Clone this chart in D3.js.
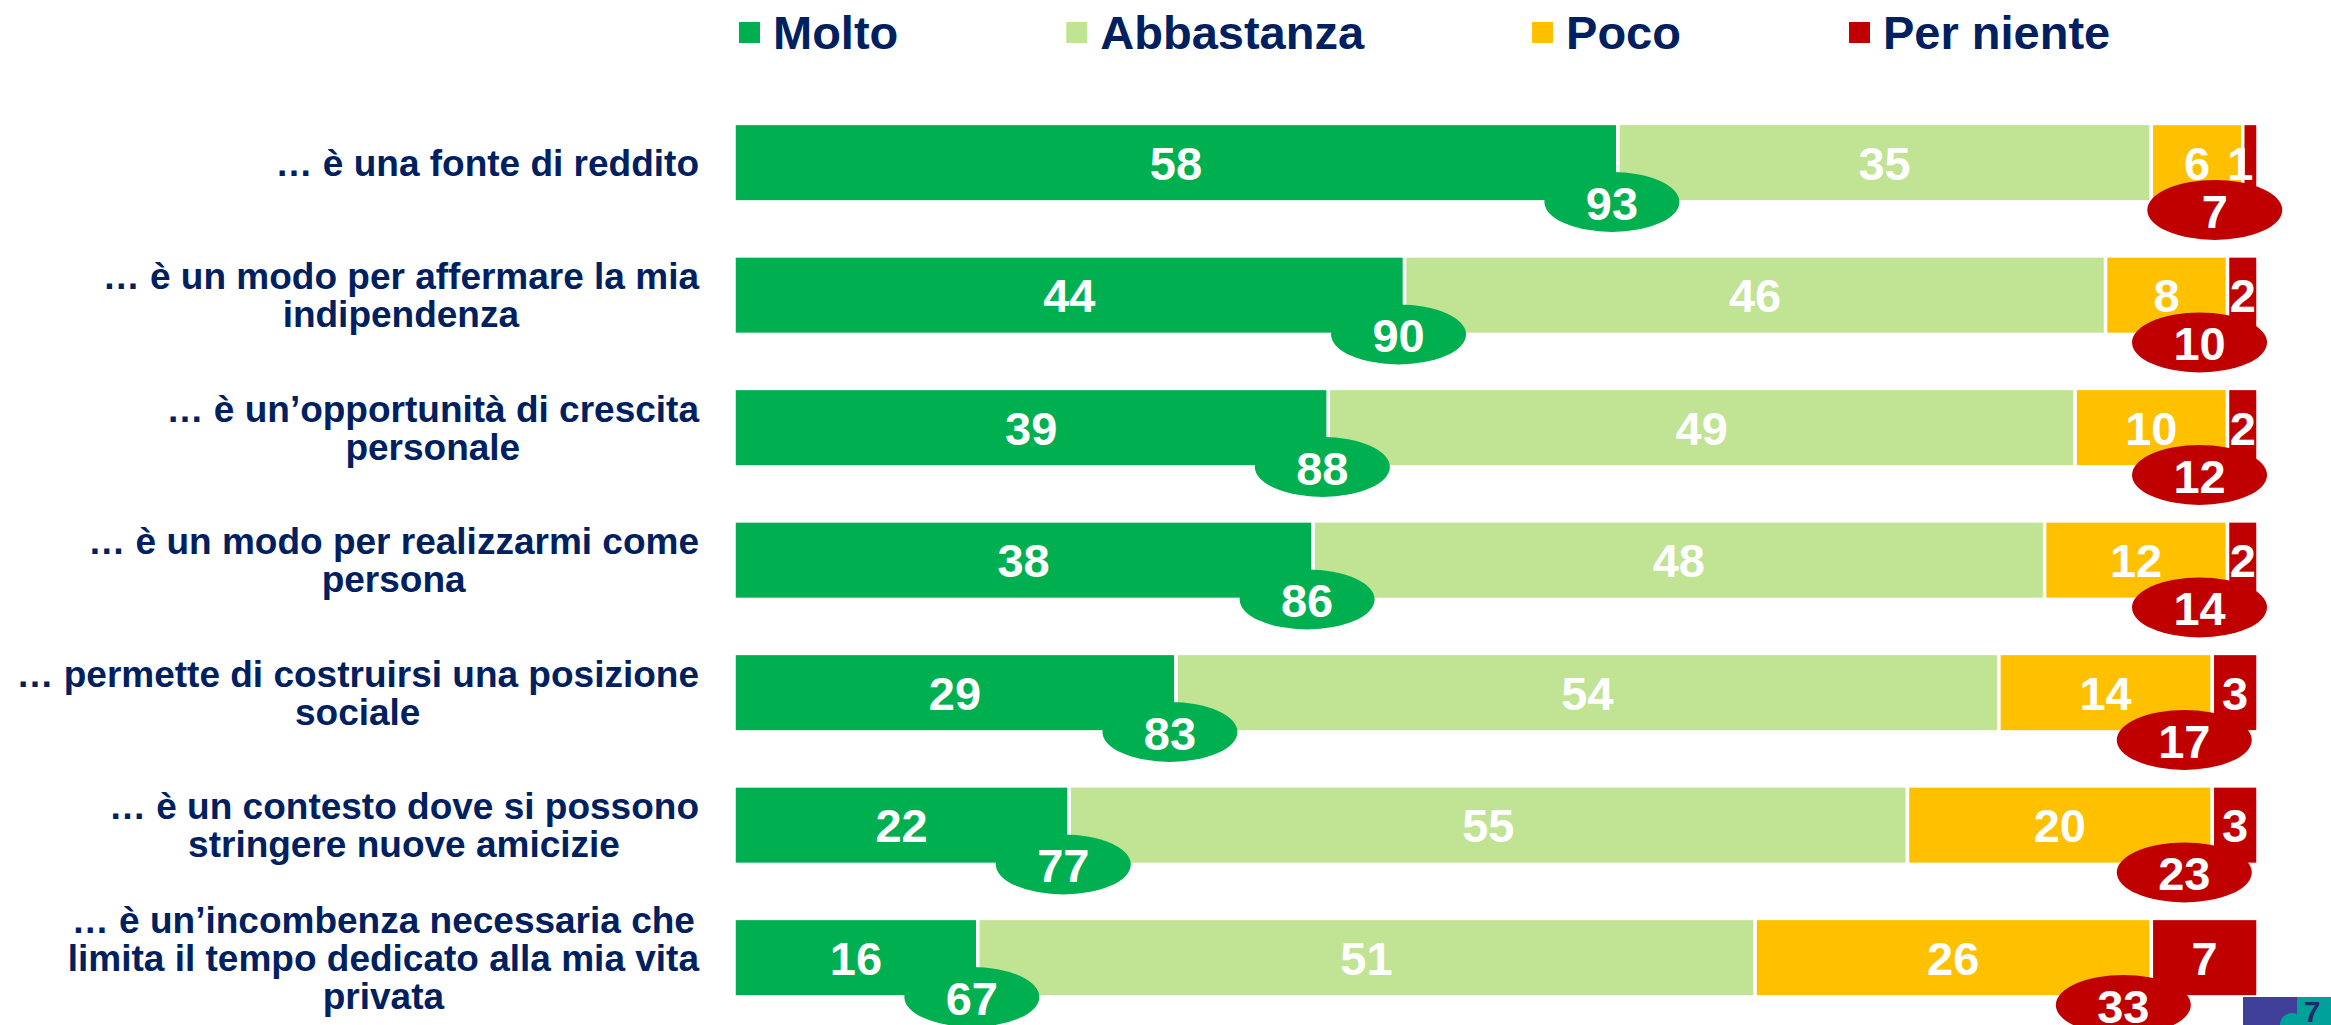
<!DOCTYPE html>
<html>
<head>
<meta charset="utf-8">
<script src="https://cdn.jsdelivr.net/npm/d3@7"></script>
<style>
  html, body { margin: 0; padding: 0; background: #ffffff; }
  svg { display: block; }
  text { font-family: "Liberation Sans", Arial, sans-serif; font-weight: bold; }
</style>
</head>
<body>
<svg id="chart" width="2331" height="1025"></svg>
<script>
// ---- data ----
const categories = [
  ["… è una fonte di reddito"],
  ["… è un modo per affermare la mia", "indipendenza"],
  ["… è un’opportunità di crescita", "personale"],
  ["… è un modo per realizzarmi come", "persona"],
  ["… permette di costruirsi una posizione", "sociale"],
  ["… è un contesto dove si possono", "stringere nuove amicizie"],
  ["… è un’incombenza necessaria che", "limita il tempo dedicato alla mia vita", "privata"]
];
const seriesNames = ["Molto", "Abbastanza", "Poco", "Per niente"];
const molto      = [58, 44, 39, 38, 29, 22, 16];
const abbastanza = [35, 46, 49, 48, 54, 55, 51];
const poco       = [6, 8, 10, 12, 14, 20, 26];
const perNiente  = [1, 2, 2, 2, 3, 3, 7];
const totalPositive = [93, 90, 88, 86, 83, 77, 67];
const totalNegative = [7, 10, 12, 14, 17, 23, 33];
const colors = ["#00B050", "#C0E394", "#FFC000", "#C00000"];
const textColor = "#002060";

// ---- layout ----
const svg = d3.select("#chart");
const x = d3.scaleLinear().domain([0, 100]).range([734, 2258]);
const y = d3.scaleBand().domain(d3.range(categories.length))
  .range([123.4, 996.9]).paddingInner(0.4075).paddingOuter(0);

const seriesValues = [molto, abbastanza, poco, perNiente];
const rows = categories.map((c, i) => {
  let acc = 0;
  return seriesValues.map((vals, s) => {
    const seg = { row: i, s, v: vals[i], x0: acc, x1: acc + vals[i] };
    acc += vals[i];
    return seg;
  });
});
const segments = rows.flat();

// bars
const gBars = svg.append("g");
gBars.selectAll("rect").data(segments).join("rect")
  .attr("x", d => x(d.x0))
  .attr("y", d => y(d.row))
  .attr("width", d => Math.max(0, x(d.x1) - x(d.x0)))
  .attr("height", y.bandwidth())
  .attr("fill", d => colors[d.s])
  .attr("stroke", "#ffffff")
  .attr("stroke-width", 3.5);

// bar labels
gBars.selectAll("text.val").data(segments).join("text")
  .attr("class", "val")
  .attr("x", d => (x(d.x0) + x(d.x1)) / 2 - (d.s === 3 && d.v < 2 ? 10 : 0))
  .attr("y", d => y(d.row) + y.bandwidth() / 2)
  .attr("dy", "0.36em")
  .attr("text-anchor", "middle")
  .attr("fill", "#ffffff")
  .attr("font-size", 47)
  .text(d => d.v);

// net ellipses
const gNet = svg.append("g");
const posData = categories.map((c, i) => ({ i, v: totalPositive[i], cx: x(molto[i]) - 6, cy: y(i) + y.bandwidth(), fill: colors[0] }));
const negData = categories.map((c, i) => ({ i, v: totalNegative[i], cx: x(100 - perNiente[i]) - 28, cy: y(i) + y.bandwidth() + 8, fill: colors[3] }));
const netData = posData.concat(negData);
gNet.selectAll("ellipse").data(netData).join("ellipse")
  .attr("cx", d => d.cx).attr("cy", d => d.cy)
  .attr("rx", 67.5).attr("ry", 30)
  .attr("fill", d => d.fill);
gNet.selectAll("text").data(netData).join("text")
  .attr("x", d => d.cx).attr("y", d => d.cy)
  .attr("dy", "0.38em")
  .attr("text-anchor", "middle")
  .attr("fill", "#ffffff")
  .attr("font-size", 47)
  .text(d => d.v);

// category labels (centered block, right-aligned to the bars)
const gLab = svg.append("g");
const lineH = 38;
categories.forEach((lines, i) => {
  const g = gLab.append("g");
  const cy = y(i) + y.bandwidth() / 2;
  const ts = g.selectAll("text").data(lines).join("text")
    .attr("font-size", 37)
    .attr("fill", textColor)
    .attr("text-anchor", "middle")
    .attr("y", (d, k) => cy + (k - (lines.length - 1) / 2) * lineH)
    .attr("dy", "0.36em")
    .text(d => d);
  let maxW = 0;
  ts.each(function () { maxW = Math.max(maxW, this.getComputedTextLength()); });
  ts.attr("x", 699 - maxW / 2);
});

// legend
const gLeg = svg.append("g");
let lx = 739;
seriesNames.forEach((name, s) => {
  gLeg.append("rect").attr("x", lx).attr("y", 22).attr("width", 21).attr("height", 21)
    .attr("fill", colors[s]);
  const t = gLeg.append("text").attr("x", lx + 34).attr("y", 49)
    .attr("font-size", 47).attr("fill", textColor).text(name);
  lx = lx + 34 + t.node().getComputedTextLength() + 168;
});

// corner logo fragment
const gLogo = svg.append("g");
gLogo.append("rect").attr("x", 2243).attr("y", 997).attr("width", 88).attr("height", 28).attr("fill", "#40409A");
gLogo.append("rect").attr("x", 2297).attr("y", 997).attr("width", 34).attr("height", 28).attr("fill", "#00A19A");
gLogo.append("circle").attr("cx", 2292).attr("cy", 1025).attr("r", 12).attr("fill", "#00A19A");
gLogo.append("text").attr("x", 2312).attr("y", 1022).attr("text-anchor", "middle")
  .attr("font-size", 30).attr("fill", "#1F2A6B").text("7");
</script>
</body>
</html>
